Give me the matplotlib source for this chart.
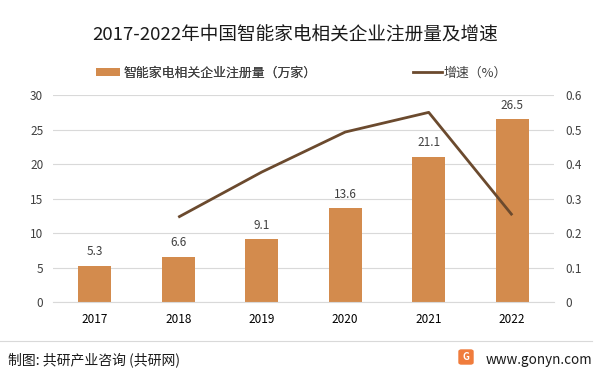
import matplotlib
matplotlib.use("Agg")
import matplotlib.pyplot as plt
from matplotlib.patches import FancyBboxPatch
from matplotlib.lines import Line2D

plt.rcParams['font.family'] = ['Noto Sans CJK SC', 'DejaVu Sans']

years = ["2017", "2018", "2019", "2020", "2021", "2022"]
registrations = [5.3, 6.6, 9.1, 13.6, 21.1, 26.5]
growth_years = ["2018", "2019", "2020", "2021", "2022"]
growth = [0.246, 0.377, 0.493, 0.55, 0.252]
left_ticks = [0, 5, 10, 15, 20, 25, 30]
right_ticks = [0, 0.1, 0.2, 0.3, 0.4, 0.5, 0.6]

bar_color = "#D38B4D"
line_color = "#6B4A2E"
text_color = "#404040"

fig = plt.figure(figsize=(6, 3.73), dpi=100)
ax = fig.add_axes([0.0883, 0.190, 0.835, 0.555])
ax2 = ax.twinx()

x = list(range(len(years)))
bars = ax.bar(x, registrations, width=0.4, color=bar_color, zorder=2)
for xi, v in zip(x, registrations):
    ax.annotate(f"{v}", (xi, v), xytext=(0, 5.5), textcoords="offset points",
                ha="center", va="bottom", fontsize=8.5, color=text_color)

gx = [years.index(y) for y in growth_years]
ax2.plot(gx, growth, color=line_color, linewidth=2.0, zorder=3,
         solid_capstyle="butt")

ax.set_xlim(-0.5, len(years) - 0.5)
ax.set_ylim(0, 30)
ax2.set_ylim(0, 0.6)
ax.set_yticks(left_ticks)
ax.set_yticklabels([str(t) for t in left_ticks])
ax2.set_yticks(right_ticks)
ax2.set_yticklabels([("0" if t == 0 else f"{t:.1f}") for t in right_ticks])
ax.set_xticks(x)
ax.set_xticklabels(years)

ax.grid(axis="y", color="#D9D9D9", linewidth=0.8, zorder=0)
ax.set_axisbelow(True)
for a in (ax, ax2):
    for s in a.spines.values():
        s.set_visible(False)
    a.tick_params(length=0, labelsize=8.5, colors=text_color)
ax.tick_params(axis="y", pad=7)
ax2.tick_params(axis="y", pad=8)
ax.tick_params(axis="x", pad=8, colors="#000000")
ax.spines["bottom"].set_visible(True)
ax.spines["bottom"].set_color("#D9D9D9")
ax.spines["bottom"].set_linewidth(0.8)

fig.text(295.5 / 600, 1 - 35 / 373, "2017-2022年中国智能家电相关企业注册量及增速",
         ha="center", va="center", fontsize=13.4, color="#1a1a1a")

leg1 = fig.legend([bars], ["智能家电相关企业注册量（万家）"], loc="center left",
                  bbox_to_anchor=(96 / 600, 1 - 73 / 373), frameon=False,
                  fontsize=9.3, borderpad=0, borderaxespad=0, handlelength=1.86,
                  handleheight=0.6, handletextpad=0.23, labelcolor=text_color)
fig.legend([Line2D([0], [0], color=line_color, linewidth=2.0)], ["增速（%）"],
           loc="center left", bbox_to_anchor=(413 / 600, 1 - 73 / 373),
           frameon=False, fontsize=9.3, borderpad=0, borderaxespad=0,
           handlelength=2.25, handletextpad=0.1, labelcolor=text_color)
fig.add_artist(leg1)

fig.add_artist(Line2D([0.0, 592 / 600], [1 - 341 / 373, 1 - 341 / 373],
                      color="#D9D9D9", linewidth=0.8, transform=fig.transFigure))
fig.text(8 / 600, 1 - 360 / 373, "制图: 共研产业咨询 (共研网)", ha="left", va="center",
         fontsize=10, color="#1a1a1a")
fig.text(592 / 600, 1 - 360 / 373, "www.gonyn.com", ha="right", va="center",
         fontsize=9.7, color="#1a1a1a")
fig.add_artist(FancyBboxPatch((459 / 600, 1 - 364 / 373), 14 / 600, 14 / 373,
                              boxstyle="round,pad=0.0,rounding_size=0.004",
                              transform=fig.transFigure, color="#F07C3C"))
fig.text(466 / 600, 1 - 357 / 373, "G", ha="center", va="center", fontsize=7,
         color="white", fontweight="bold")

fig.savefig("out.png", dpi=100)
